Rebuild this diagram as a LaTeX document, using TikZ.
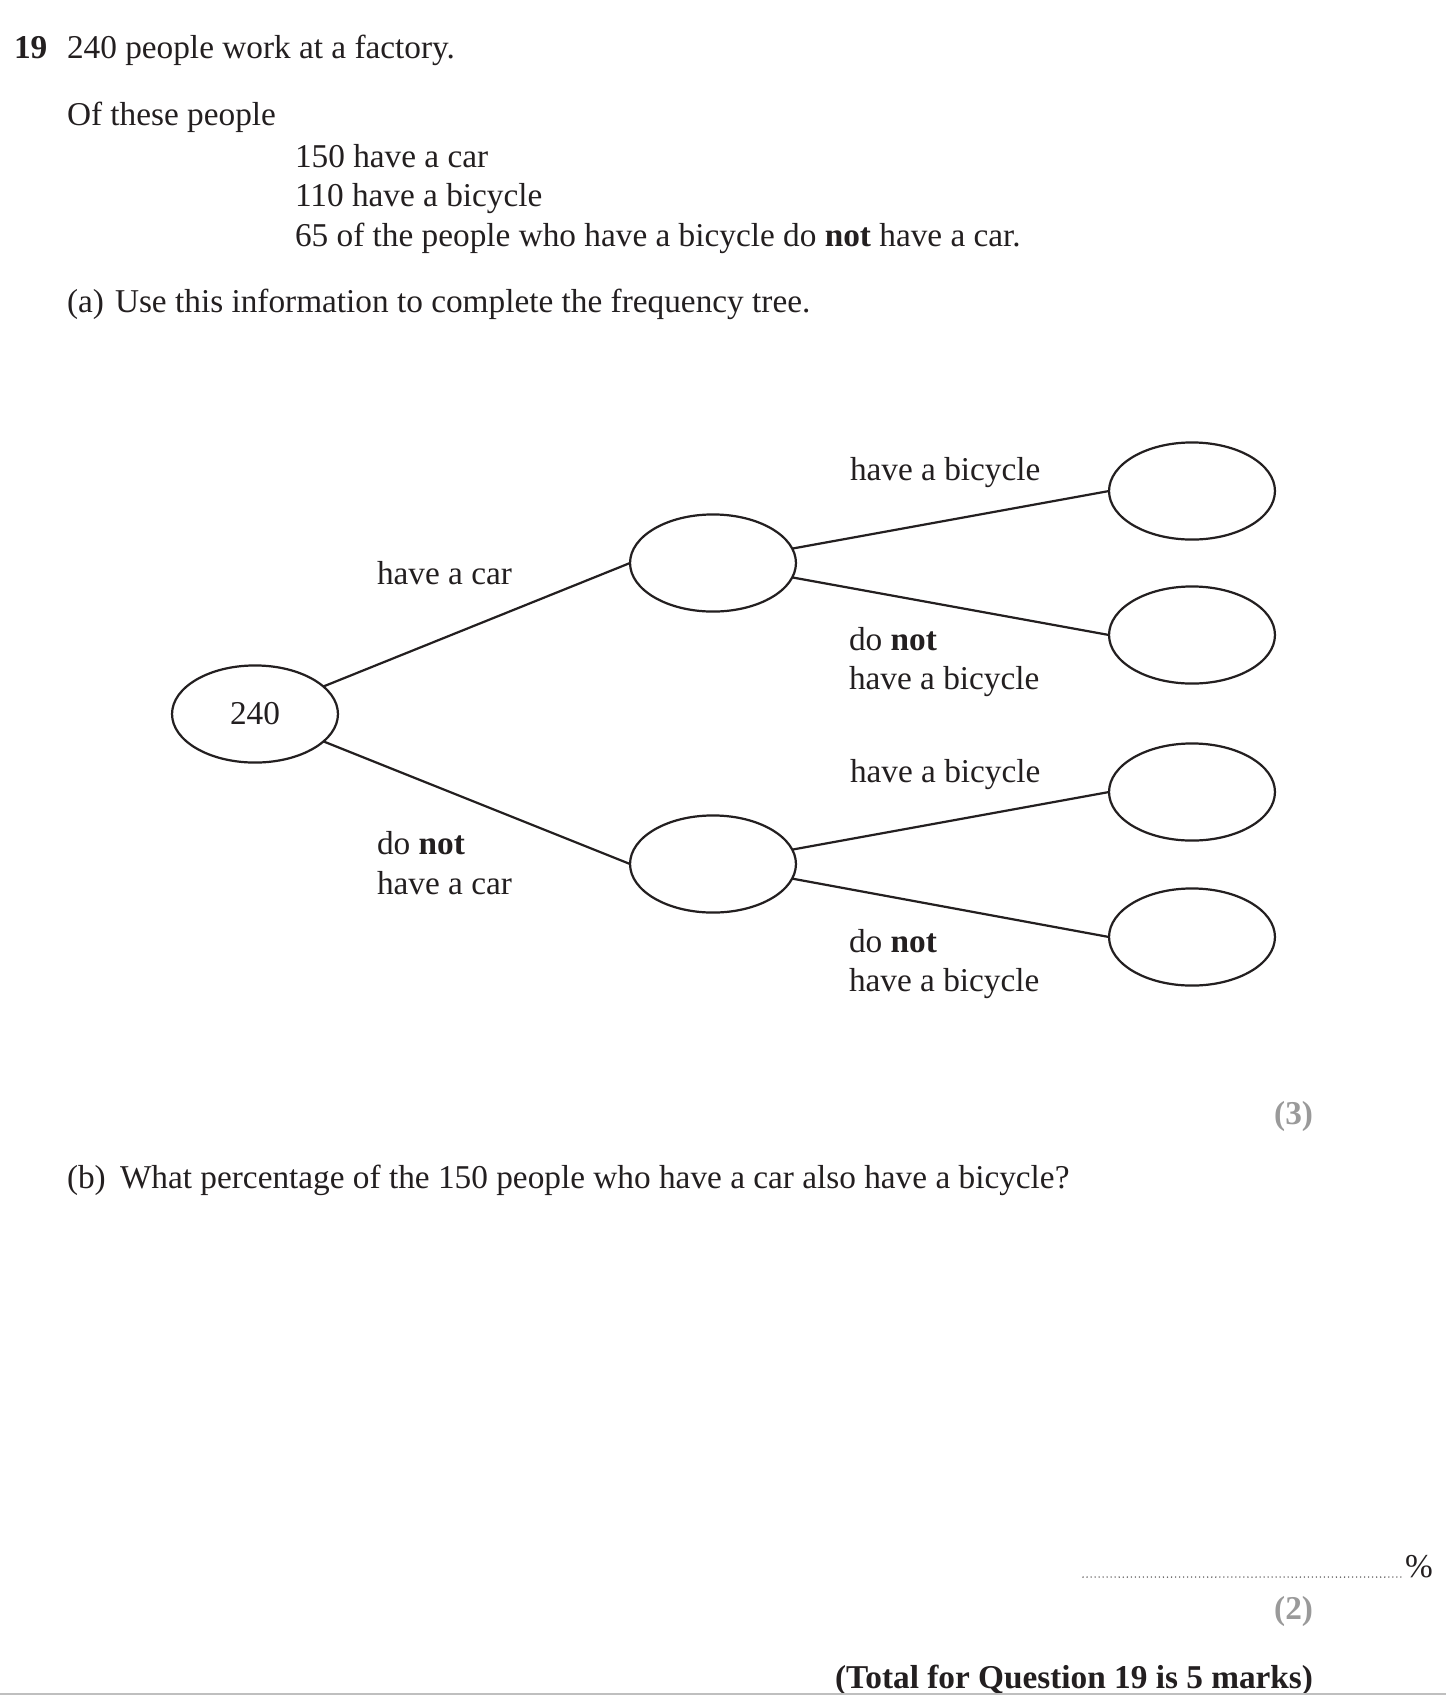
\documentclass[tikz,border=0pt]{standalone}
\usepackage{fontspec}
\setmainfont{Liberation Serif}
\usetikzlibrary{shapes.geometric}
\definecolor{ink}{HTML}{231F20}
\definecolor{marksgray}{HTML}{9A9A9A}
\begin{document}
\begin{tikzpicture}[x=0.3604pt,y=-0.3604pt,
  every node/.style={font=\fontsize{12}{14}\selectfont, text=ink, inner sep=0pt, outer sep=0pt},
  txt/.style={anchor=base west},
  bubble/.style={ellipse, draw=ink, line width=0.8pt, minimum width=59.8pt, minimum height=35pt},
  branch/.style={draw=ink, line width=0.8pt},
  marks/.style={anchor=base east, text=marksgray, font=\fontsize{12}{14}\selectfont\bfseries}]
\useasboundingbox (0,0) rectangle (1446,1698);
\fill[white] (0,0) rectangle (1446,1698);

% header text
\node[txt] (qnum) at (14,58) {\textbf{19}};
\node[txt] (q1) at (67,58) {240 people work at a factory.};
\node[txt] (q2) at (67,125) {Of these people};
\node[txt] (q3) at (295,167) {150 have a car};
\node[txt] (q4) at (295,206) {110 have a bicycle};
\node[txt] (q5) at (295,246) {65 of the people who have a bicycle do \textbf{not} have a car.};
\node[txt] (pa) at (67,312) {(a)};
\node[txt] (pat) at (115,312) {Use this information to complete the frequency tree.};

% tree nodes
\node[bubble] (root) at (255,714) {240};
\node[bubble] (m1) at (713,563) {};
\node[bubble] (m2) at (713,864) {};
\node[bubble] (r1) at (1192,491) {};
\node[bubble] (r2) at (1192,635) {};
\node[bubble] (r3) at (1192,792) {};
\node[bubble] (r4) at (1192,937) {};

% branches
\draw[branch] (root) -- (m1.west);
\draw[branch] (root) -- (m2.west);
\draw[branch] (m1) -- (r1.west);
\draw[branch] (m1) -- (r2.west);
\draw[branch] (m2) -- (r3.west);
\draw[branch] (m2) -- (r4.west);

% branch labels
\node[txt] (l1) at (377,584) {have a car};
\node[txt] (l2a) at (377,854) {do \textbf{not}};
\node[txt] (l2b) at (377,894) {have a car};
\node[txt] (l3) at (850,480) {have a bicycle};
\node[txt] (l4a) at (849,650) {do \textbf{not}};
\node[txt] (l4b) at (849,689) {have a bicycle};
\node[txt] (l5) at (850,782) {have a bicycle};
\node[txt] (l6a) at (849,952) {do \textbf{not}};
\node[txt] (l6b) at (849,991) {have a bicycle};

\node[marks] (m3) at (1313,1124) {(3)};

% part b
\node[txt] (pb) at (67,1188) {(b)};
\node[txt] (pbt) at (120,1188) {What percentage of the 150 people who have a car also have a bicycle?};

\coordinate (dotA) at (1083,1577);
\coordinate (dotB) at (1402,1577);
\draw[ink!80, line width=0.55pt, line cap=round, dash pattern=on 0pt off 1.45pt] (dotA) -- (dotB);
\node[txt] (pct) at (1405,1577) {\%};
\node[marks] (m2mark) at (1313,1619) {(2)};
\node[anchor=base east, font=\fontsize{12}{14}\selectfont\bfseries] (total) at (1313,1688) {(Total for Question 19 is 5 marks)};

\coordinate (rule1) at (0,1694);
\coordinate (rule2) at (1446,1694);
\draw[black!25, line width=0.5pt] (rule1) -- (rule2);
\end{tikzpicture}
\end{document}
